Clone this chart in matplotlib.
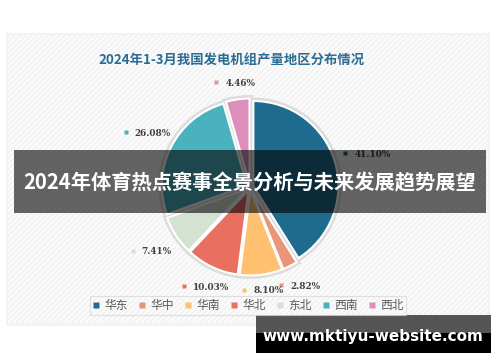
import numpy as np
import matplotlib
matplotlib.use("Agg")
import matplotlib.pyplot as plt
from matplotlib.patches import Rectangle
from matplotlib.lines import Line2D

plt.rcParams['font.family'] = ['Noto Sans CJK SC', 'DejaVu Sans']

regions = ['华东', '华中', '华南', '华北', '东北', '西南', '西北']
shares = [41.10, 2.82, 8.10, 10.03, 7.41, 26.08, 4.46]
colors = ['#1e6b8e', '#e8957a', '#ffc070', '#e96f60', '#d3e2d1', '#4ab2bf', '#dd8fbb']
title = '2024年1-3月我国发电机组产量地区分布情况'
banner = '2024年体育热点赛事全景分析与未来发展趋势展望'
watermark = 'www.mktiyu-website.com'

W, H = 500, 362
fig = plt.figure(figsize=(W / 100, H / 100), dpi=100)
fig.patch.set_facecolor('white')

# background / card axes (pixel coordinates)
bg = fig.add_axes([0, 0, 1, 1], zorder=0)
bg.set_xlim(0, W); bg.set_ylim(H, 0); bg.axis('off')
bg.add_patch(Rectangle((6, 33), 484, 293, facecolor='#f3f3f3', edgecolor='none'))
bg.add_patch(Rectangle((8, 35), 480, 288, facecolor='#fbfbfb', edgecolor='#f1f1f1',
                       lw=0, hatch='//////'))
bg.text(232, 60, title, ha='center', va='center', fontsize=9.6, fontweight='bold',
        color='#2b6c93')

# pie axes
cx, cy = 250, 187
half = 150
pie_ax = fig.add_axes([(cx - half) / W, 1 - (cy + half) / H, 2 * half / W, 2 * half / H],
                      zorder=1)
pie_ax.patch.set_alpha(0)
R = 0.85
explode = [0.035] * len(shares)
# soft gray halo
pie_ax.pie(shares, radius=R, startangle=90, counterclock=False, explode=explode,
           colors=colors, wedgeprops=dict(edgecolor='#dcdcdc', linewidth=5))
wedges, _ = pie_ax.pie(shares, radius=R, startangle=90, counterclock=False, explode=explode,
                       colors=colors, wedgeprops=dict(edgecolor='white', linewidth=1.5))
pie_ax.set_xlim(-1.5, 1.5); pie_ax.set_ylim(-1.5, 1.5); pie_ax.axis('off')

# labels
tot = sum(shares)
cum = 0
r0, bw, bh = 0.96, 0.22, 0.06
for v, c in zip(shares, colors):
    mid = np.deg2rad(90 - (cum + v / 2) / tot * 360)
    cum += v
    ca, sa = np.cos(mid), np.sin(mid)
    d = r0 + abs(ca) * bw + abs(sa) * bh
    lx, ly = d * ca, d * sa
    pie_ax.plot(lx - 0.19, ly + 0.01, marker='s', ms=2.2, color=c, mec='none', clip_on=False)
    pie_ax.text(lx - 0.10, ly, f'{v:.2f}%', ha='left', va='center', fontsize=6.4,
                fontweight='bold', family='DejaVu Serif', color='#404040')

# legend
handles = [Line2D([], [], marker='s', ls='none', ms=4, color=c, mec='none') for c in colors]
leg = fig.legend(handles, regions, ncol=7, loc='center', bbox_to_anchor=(248 / W, 1 - 305.5 / H),
                 frameon=True, fontsize=8.5, handlelength=0.6, handletextpad=0.4,
                 columnspacing=0.9, borderpad=0.25, labelcolor='#595959', fancybox=False)
leg.get_frame().set_edgecolor('#d9d9d9')
leg.get_frame().set_linewidth(0.8)
leg.get_frame().set_facecolor('none')

# overlay
ov = fig.add_axes([0, 0, 1, 1], zorder=3)
ov.set_xlim(0, W); ov.set_ylim(H, 0); ov.axis('off'); ov.patch.set_alpha(0)
ov.add_patch(Rectangle((14, 150), 472, 63, facecolor='black', alpha=0.6, edgecolor='none'))
ov.text(250, 183, banner, ha='center', va='center', fontsize=14.6, fontweight='bold',
        color='white')
ov.add_patch(Rectangle((256, 315), 235, 19, facecolor='#555555', edgecolor='none'))
ov.add_patch(Rectangle((256, 333), 235, 20, facecolor='black', edgecolor='none'))
ov.text(373, 336, watermark, ha='center', va='center', fontsize=11, fontweight='bold',
        family='DejaVu Sans', color='white')

fig.savefig('out.png', dpi=100)
